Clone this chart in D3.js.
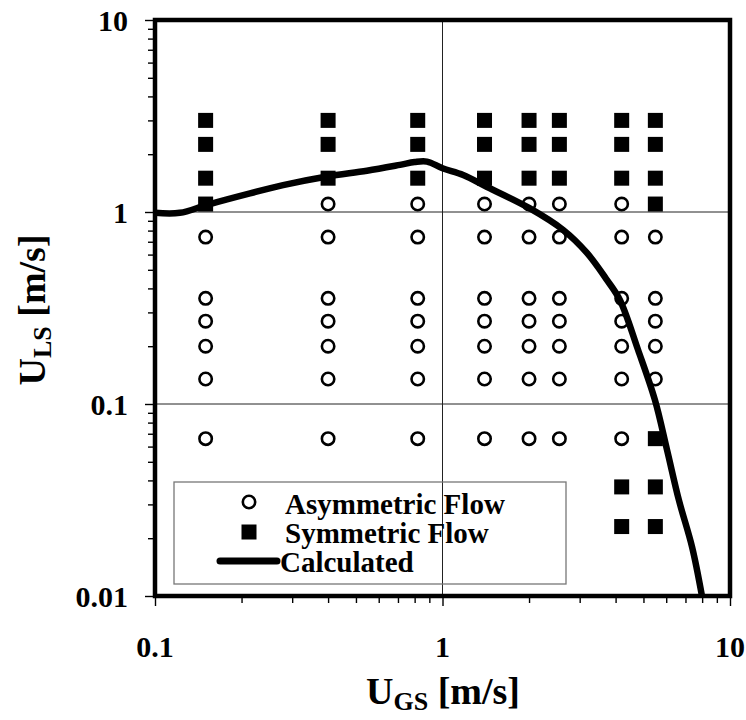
<!DOCTYPE html>
<html>
<head>
<meta charset="utf-8">
<script src="https://cdn.jsdelivr.net/npm/d3@7"></script>
<style>
  html, body { margin: 0; padding: 0; background: #fff; }
  svg { display: block; }
  text { font-family: "Liberation Serif", "Times New Roman", serif; font-weight: bold; fill: #000; }
</style>
</head>
<body>
<svg id="chart" width="746" height="720"></svg>
<script>
// Superficial gas velocity columns and liquid velocities for each observed regime
const asymUgs = [
  0.15, 0.15, 0.15, 0.15, 0.15, 0.15,
  0.4, 0.4, 0.4, 0.4, 0.4, 0.4, 0.4,
  0.82, 0.82, 0.82, 0.82, 0.82, 0.82, 0.82,
  1.4, 1.4, 1.4, 1.4, 1.4, 1.4, 1.4,
  2.0, 2.0, 2.0, 2.0, 2.0, 2.0, 2.0,
  2.55, 2.55, 2.55, 2.55, 2.55, 2.55, 2.55,
  4.2, 4.2, 4.2, 4.2, 4.2, 4.2, 4.2,
  5.5, 5.5, 5.5, 5.5, 5.5
];
const asymUls = [
  0.74, 0.355, 0.27, 0.2, 0.135, 0.066,
  1.1, 0.74, 0.355, 0.27, 0.2, 0.135, 0.066,
  1.1, 0.74, 0.355, 0.27, 0.2, 0.135, 0.066,
  1.1, 0.74, 0.355, 0.27, 0.2, 0.135, 0.066,
  1.1, 0.74, 0.355, 0.27, 0.2, 0.135, 0.066,
  1.1, 0.74, 0.355, 0.27, 0.2, 0.135, 0.066,
  1.1, 0.74, 0.355, 0.27, 0.2, 0.135, 0.066,
  0.74, 0.355, 0.27, 0.2, 0.135
];
const symUgs = [
  0.15, 0.15, 0.15, 0.15,
  0.4, 0.4, 0.4,
  0.82, 0.82, 0.82,
  1.4, 1.4, 1.4,
  2.0, 2.0, 2.0,
  2.55, 2.55, 2.55,
  4.2, 4.2, 4.2, 4.2, 4.2,
  5.5, 5.5, 5.5, 5.5, 5.5, 5.5, 5.5
];
const symUls = [
  3.0, 2.25, 1.5, 1.1,
  3.0, 2.25, 1.5,
  3.0, 2.25, 1.5,
  3.0, 2.25, 1.5,
  3.0, 2.25, 1.5,
  3.0, 2.25, 1.5,
  3.0, 2.25, 1.5, 0.037, 0.023,
  3.0, 2.25, 1.5, 1.1, 0.066, 0.037, 0.023
];
// Calculated transition boundary
const calcUgs = [0.1, 0.122, 0.152, 0.214, 0.279, 0.397, 0.546, 0.711, 0.80, 0.883, 1.0, 1.18, 1.43, 2.0, 2.63, 3.18, 3.73, 4.14, 4.79, 5.48, 6.04, 6.64, 7.38, 7.99];
const calcUls = [0.99, 0.99, 1.09, 1.25, 1.38, 1.53, 1.64, 1.76, 1.82, 1.83, 1.69, 1.56, 1.35, 1.05, 0.806, 0.612, 0.443, 0.348, 0.191, 0.105, 0.0576, 0.0316, 0.018, 0.01];

const xMajor = [0.1, 1, 10];
const yMajor = [0.01, 0.1, 1, 10];
const xTickLabels = ["0.1", "1", "10"];
const yTickLabels = ["0.01", "0.1", "1", "10"];
const legendLabels = ["Asymmetric Flow", "Symmetric Flow", "Calculated"];

const svg = d3.select("#chart");
const L = 155, R = 730, T = 20, B = 596;

const x = d3.scaleLog().domain([0.1, 10]).range([L, R]);
const y = d3.scaleLog().domain([0.01, 10]).range([B, T]);

// minor + major log ticks
const xTicks = x.ticks();
const yTicks = y.ticks();
const isMajor = v => Math.abs(Math.log10(v) - Math.round(Math.log10(v))) < 1e-9;

// grid lines at interior decades
const grid = svg.append("g").attr("stroke", "#222").attr("stroke-width", 1);
grid.selectAll("line.gy").data([0.1, 1]).join("line")
  .attr("x1", L).attr("x2", R).attr("y1", d => y(d)).attr("y2", d => y(d));
grid.selectAll("line.gx").data([1]).join("line")
  .attr("y1", T).attr("y2", B).attr("x1", d => x(d)).attr("x2", d => x(d));

// axes
const xAxis = svg.append("g").attr("transform", `translate(0,${B})`)
  .call(d3.axisBottom(x).tickValues(xTicks).tickSize(8).tickFormat(() => ""));
const yAxis = svg.append("g").attr("transform", `translate(${L},0)`)
  .call(d3.axisLeft(y).tickValues(yTicks).tickSize(8).tickFormat(() => ""));
[xAxis, yAxis].forEach(a => {
  a.select(".domain").remove();
  a.selectAll(".tick line").attr("stroke", "#000").attr("stroke-width", 1.4);
});
xAxis.selectAll(".tick line").attr("y2", d => isMajor(d) ? 10 : 7);
yAxis.selectAll(".tick line").attr("x2", d => isMajor(d) ? -10 : -7);

// tick labels
svg.append("g").selectAll("text").data(xMajor).join("text")
  .attr("x", d => x(d)).attr("y", 657)
  .attr("text-anchor", "middle").attr("font-size", 30)
  .text((d, i) => xTickLabels[i]);
svg.append("g").selectAll("text").data(yMajor).join("text")
  .attr("x", 128).attr("y", d => y(d) + 11)
  .attr("text-anchor", "end").attr("font-size", 30)
  .text((d, i) => yTickLabels[i]);

// axis titles
const xt = svg.append("text").attr("x", 443).attr("y", 704)
  .attr("text-anchor", "middle").attr("font-size", 38);
xt.append("tspan").text("U");
xt.append("tspan").attr("font-size", 26).attr("dy", 6).text("GS");
xt.append("tspan").attr("dy", -6).text(" [m/s]");

const yt = svg.append("text")
  .attr("transform", `translate(45,310) rotate(-90)`)
  .attr("text-anchor", "middle").attr("font-size", 38);
yt.append("tspan").text("U");
yt.append("tspan").attr("font-size", 26).attr("dy", 6).text("LS");
yt.append("tspan").attr("dy", -6).text(" [m/s]");

// legend box
const lg = svg.append("g");
lg.append("rect").attr("x", 174).attr("y", 482).attr("width", 392).attr("height", 102)
  .attr("fill", "none").attr("stroke", "#777").attr("stroke-width", 1.3);

// clipped plotting layer
svg.append("clipPath").attr("id", "plotclip")
  .append("rect").attr("x", L).attr("y", T).attr("width", R - L).attr("height", B - T);
const plot = svg.append("g").attr("clip-path", "url(#plotclip)");

// asymmetric flow observations
plot.append("g").selectAll("circle").data(asymUgs.map((u, i) => [u, asymUls[i]])).join("circle")
  .attr("cx", d => x(d[0])).attr("cy", d => y(d[1])).attr("r", 6.2)
  .attr("fill", "#fff").attr("stroke", "#000").attr("stroke-width", 2.6);

// symmetric flow observations
const sq = 15;
plot.append("g").selectAll("rect").data(symUgs.map((u, i) => [u, symUls[i]])).join("rect")
  .attr("x", d => x(d[0]) - sq / 2).attr("y", d => y(d[1]) - sq / 2)
  .attr("width", sq).attr("height", sq).attr("fill", "#000");

// calculated boundary
const line = d3.line().x(d => x(d[0])).y(d => y(d[1])).curve(d3.curveCatmullRom.alpha(0.5));
plot.append("path").datum(calcUgs.map((u, i) => [u, calcUls[i]]))
  .attr("d", line).attr("fill", "none").attr("stroke", "#000")
  .attr("stroke-width", 6.5).attr("stroke-linejoin", "round");

// frame
svg.append("rect").attr("x", L).attr("y", T).attr("width", R - L).attr("height", B - T)
  .attr("fill", "none").attr("stroke", "#000").attr("stroke-width", 4.5);

// legend entries
lg.append("circle").attr("cx", 249).attr("cy", 502).attr("r", 6.2)
  .attr("fill", "#fff").attr("stroke", "#000").attr("stroke-width", 2.6);
lg.append("rect").attr("x", 249 - sq / 2).attr("y", 532 - sq / 2).attr("width", sq).attr("height", sq).attr("fill", "#000");
lg.append("line").attr("x1", 220).attr("x2", 277).attr("y1", 561).attr("y2", 561)
  .attr("stroke", "#000").attr("stroke-width", 7).attr("stroke-linecap", "round");
lg.selectAll("text").data(legendLabels).join("text")
  .attr("x", (d, i) => i === 2 ? 280 : 285)
  .attr("y", (d, i) => 514 + i * 29)
  .attr("font-size", 29)
  .text(d => d);
</script>
</body>
</html>
